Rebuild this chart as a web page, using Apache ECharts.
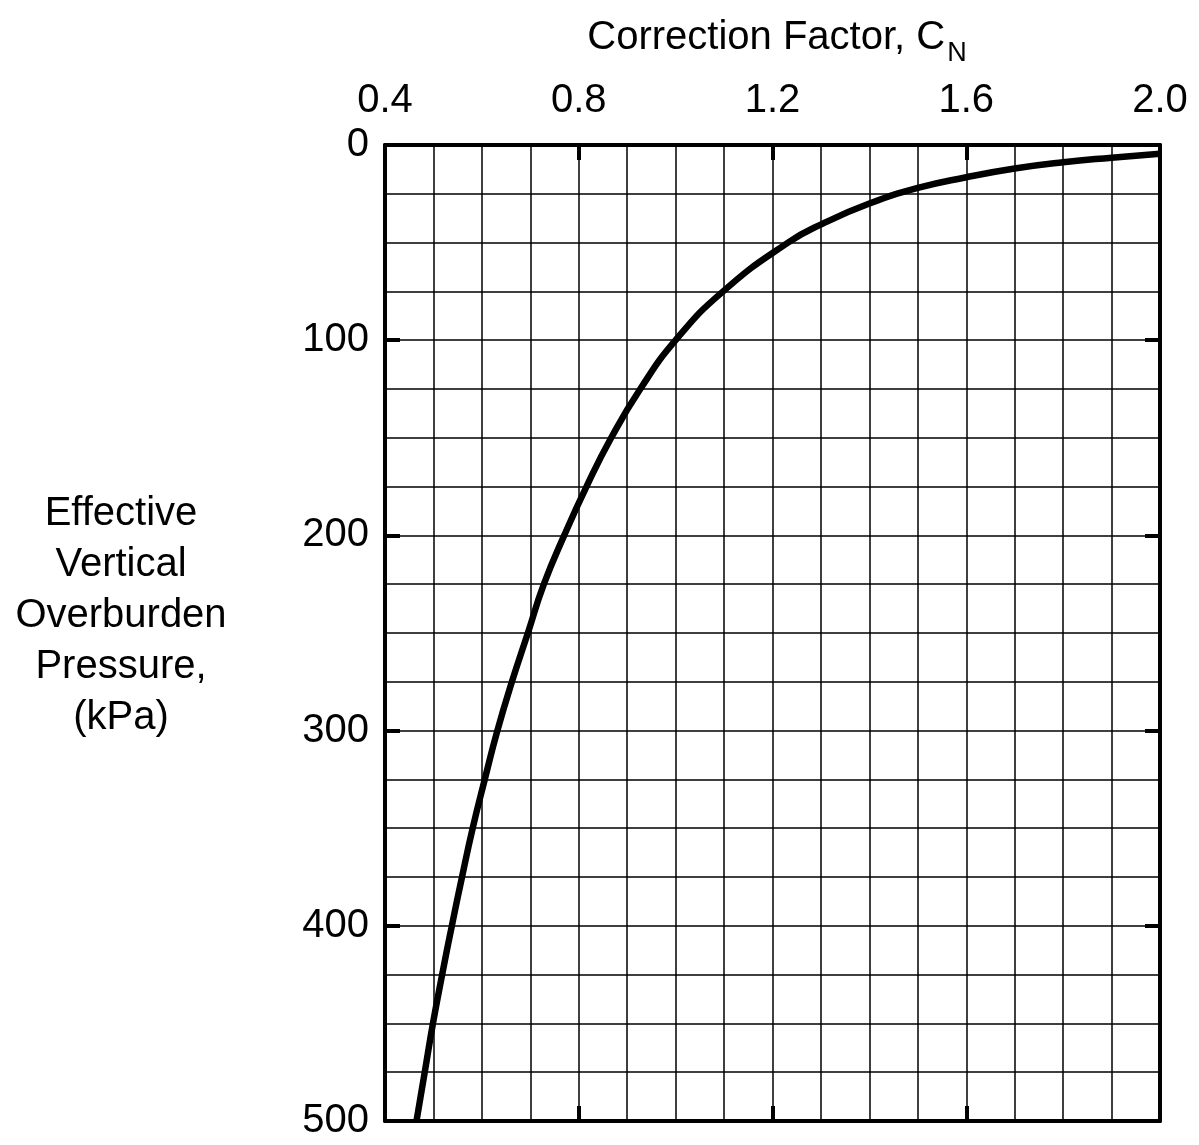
<!DOCTYPE html>
<html>
<head>
<meta charset="utf-8">
<script src="https://cdn.jsdelivr.net/npm/echarts@6/dist/echarts.min.js"></script>
<style>
  html, body { margin: 0; padding: 0; background: #fff; }
  #chart { width: 1199px; height: 1145px; }
</style>
</head>
<body>
<div id="chart"></div>
<script>
// values (correction factor vs effective pressure, kPa)
const cnValues = [0.465, 0.482, 0.499, 0.518, 0.538, 0.559, 0.581, 0.606, 0.632, 0.662, 0.695, 0.728, 0.770, 0.816, 0.867, 0.927, 1.00, 1.098, 1.232, 1.306, 1.40, 1.50, 1.60, 1.70, 1.80, 1.90, 2.00];
const pressureValues = [500, 475, 450, 425, 400, 375, 350, 325, 300, 275, 250, 225, 200, 175, 150, 125, 100, 75, 50, 40, 30, 22, 16.5, 12, 8.8, 6.5, 4.5];
const xTicks = [0.4, 0.8, 1.2, 1.6, 2.0];
const yTicks = [0, 100, 200, 300, 400, 500];

const font = 'Liberation Sans, Arial, sans-serif';
const ink = '#000';

const curve = cnValues.map((c, i) => [c, pressureValues[i]]);

const gridLine = { show: true, lineStyle: { color: ink, width: 1.5 } };
const borderLine = { show: true, onZero: false, lineStyle: { color: ink, width: 4 } };
const innerTick = { show: true, inside: true, length: 15, lineStyle: { color: ink, width: 4 } };

const option = {
  backgroundColor: '#fff',
  animation: false,
  title: [
    {
      text: 'Correction Factor, C{sub|N}',
      left: 772,
      top: 3,
      textAlign: 'center',
      textStyle: {
        fontFamily: font, fontSize: 40, fontWeight: 'normal', color: ink,
        rich: {
          sub: { fontFamily: font, fontSize: 27, color: ink, verticalAlign: 'bottom', padding: [32, 0, 0, 2] }
        }
      }
    },
    {
      text: 'Effective\nVertical\nOverburden\nPressure,\n(kPa)',
      left: 116,
      top: 483,
      textAlign: 'center',
      textStyle: { fontFamily: font, fontSize: 40, lineHeight: 51, fontWeight: 'normal', color: ink }
    }
  ],
  grid: { left: 385, right: 39, top: 145, bottom: 24 },
  xAxis: [
    {
      type: 'value',
      position: 'top',
      min: xTicks[0],
      max: xTicks[xTicks.length - 1],
      interval: 0.4,
      axisLine: borderLine,
      axisTick: innerTick,
      axisLabel: {
        margin: 24,
        fontFamily: font, fontSize: 40, color: ink,
        formatter: v => v.toFixed(1)
      },
      splitLine: gridLine,
      minorTick: { show: false, splitNumber: 4 },
      minorSplitLine: gridLine
    },
    {
      type: 'value',
      position: 'bottom',
      min: xTicks[0],
      max: xTicks[xTicks.length - 1],
      interval: 0.4,
      axisLine: borderLine,
      axisTick: innerTick,
      axisLabel: { show: false },
      splitLine: { show: false }
    }
  ],
  yAxis: [
    {
      type: 'value',
      inverse: true,
      min: yTicks[0],
      max: yTicks[yTicks.length - 1],
      interval: 100,
      axisLine: borderLine,
      axisTick: innerTick,
      axisLabel: { margin: 16, fontFamily: font, fontSize: 40, color: ink },
      splitLine: gridLine,
      minorTick: { show: false, splitNumber: 4 },
      minorSplitLine: gridLine
    },
    {
      type: 'value',
      position: 'right',
      inverse: true,
      min: yTicks[0],
      max: yTicks[yTicks.length - 1],
      interval: 100,
      axisLine: borderLine,
      axisTick: innerTick,
      axisLabel: { show: false },
      splitLine: { show: false }
    }
  ],
  series: [
    {
      type: 'line',
      data: curve,
      smooth: 0.5,
      symbol: 'none',
      lineStyle: { color: ink, width: 6.5 }
    }
  ]
};

const chart = echarts.init(document.getElementById('chart'));
chart.setOption(option);
</script>
</body>
</html>
